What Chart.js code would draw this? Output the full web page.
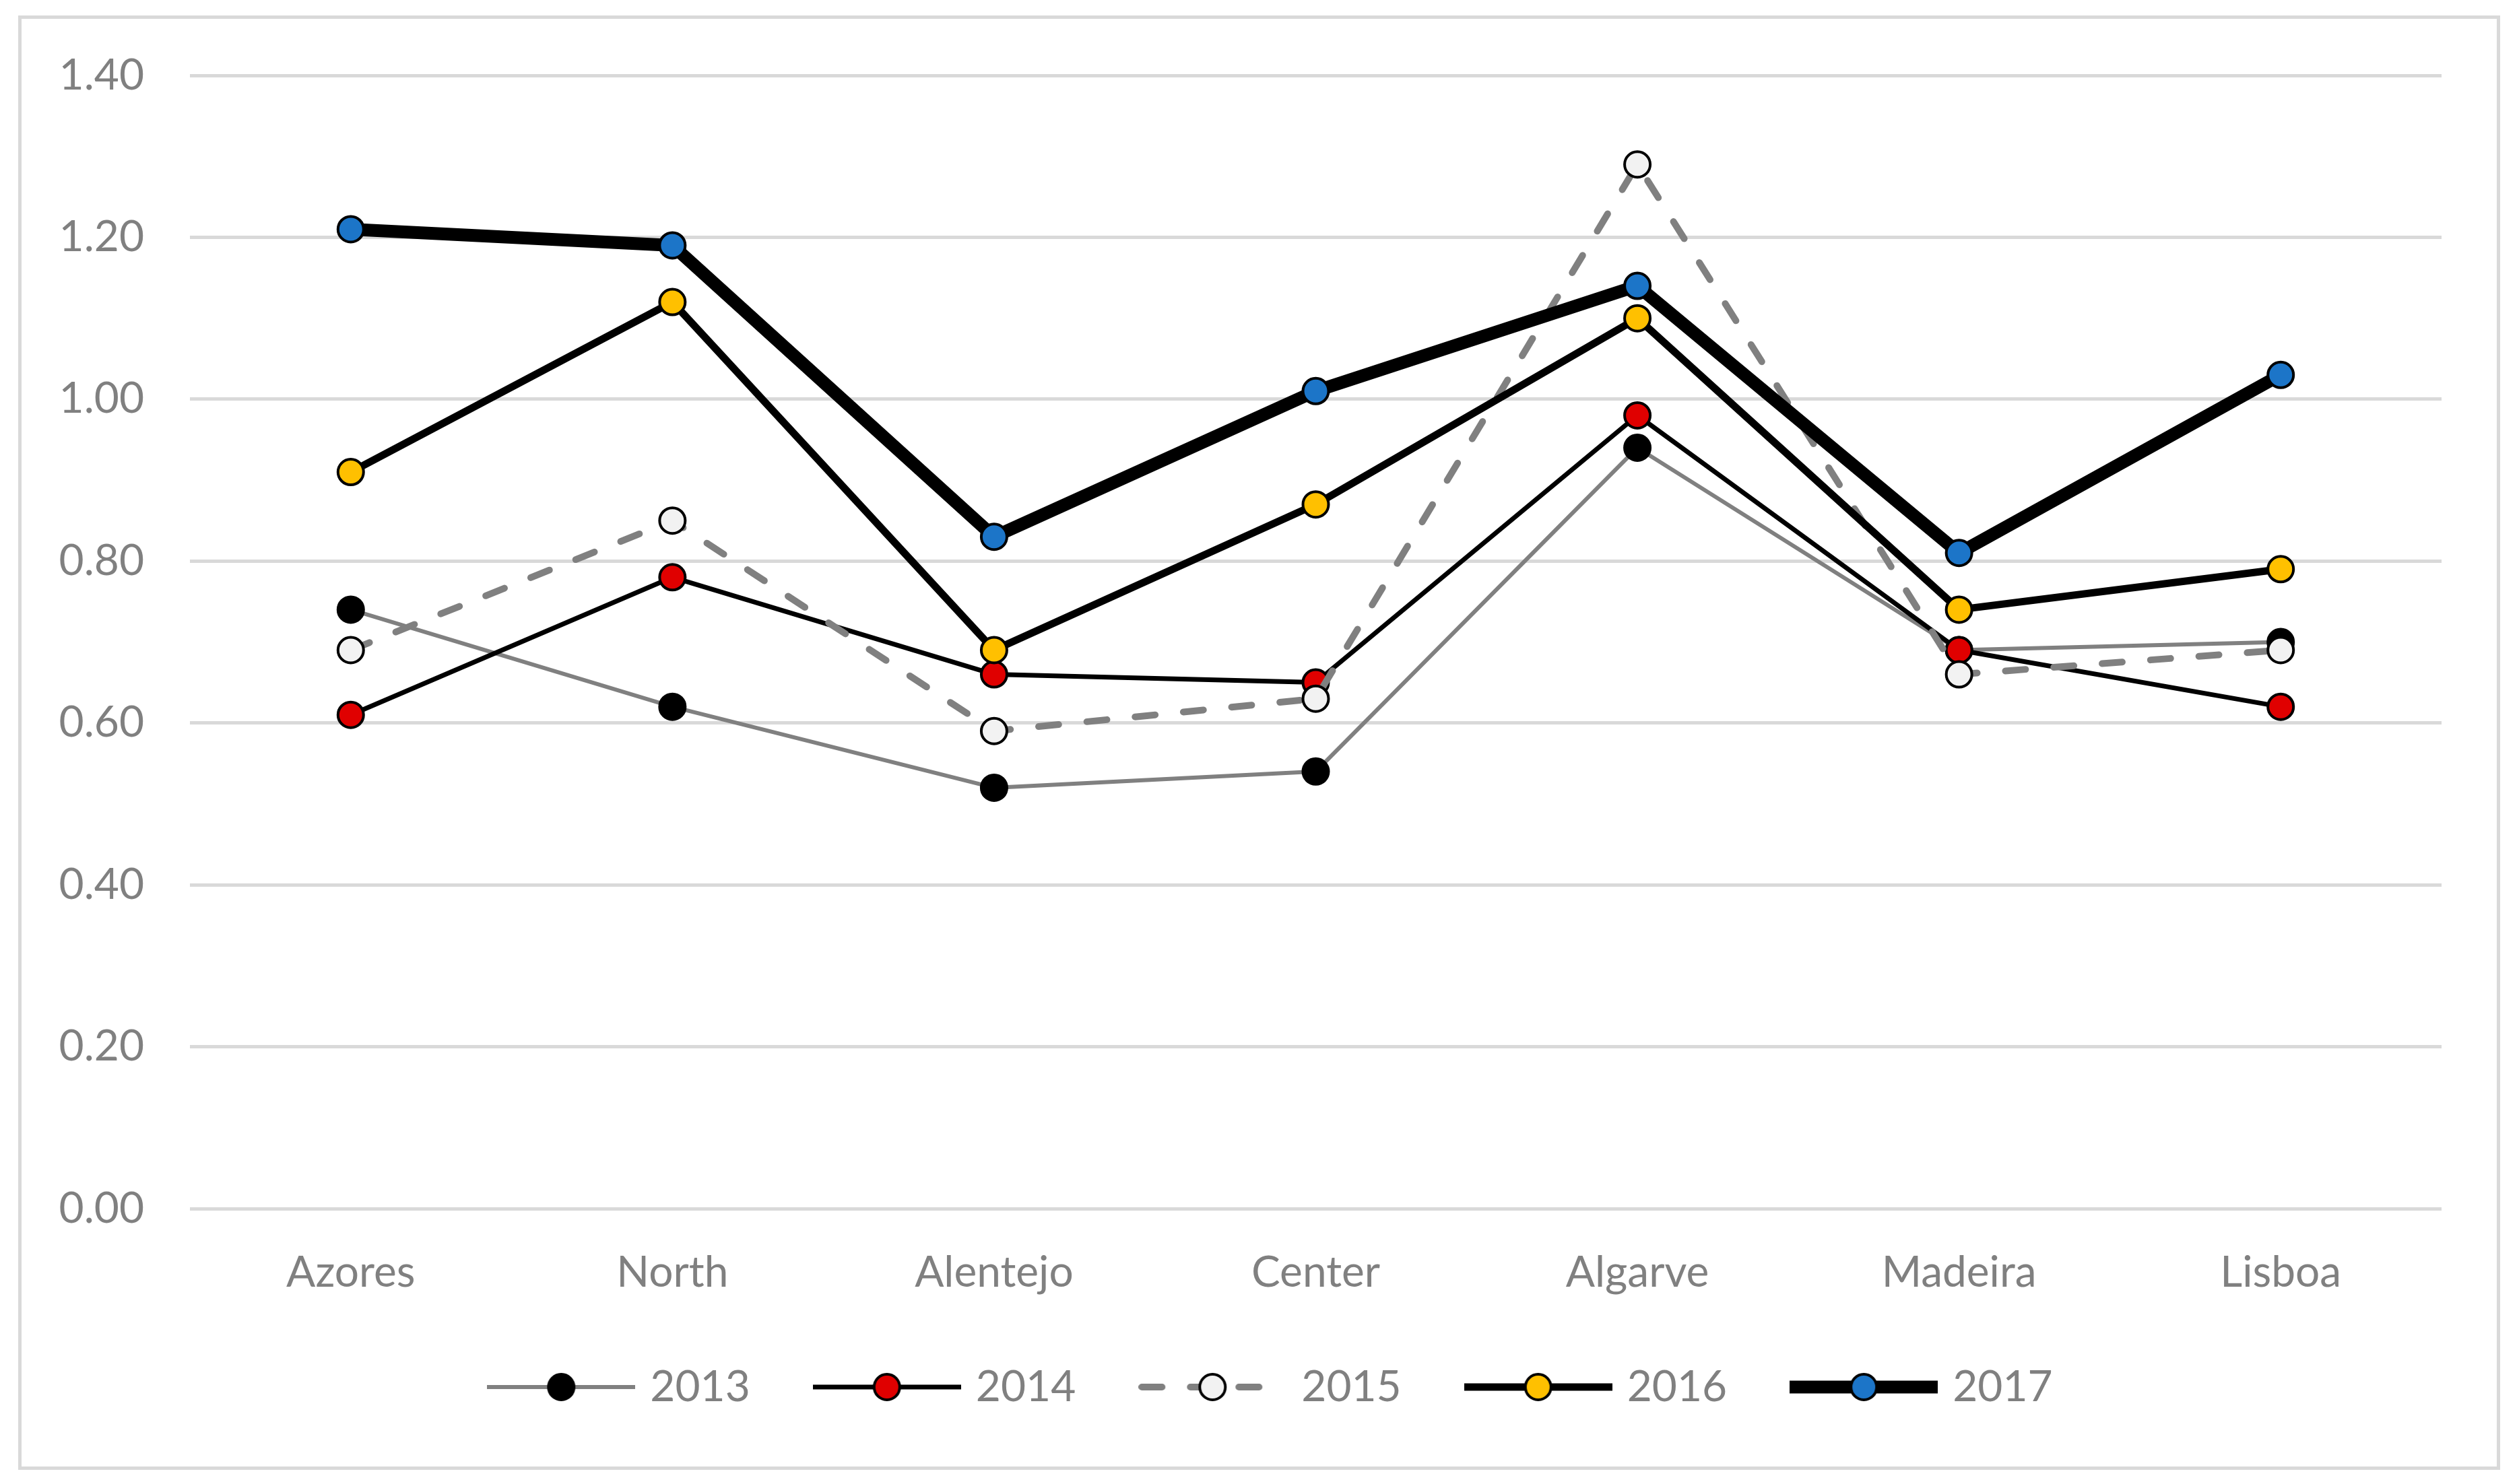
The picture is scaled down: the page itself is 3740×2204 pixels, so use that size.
<!DOCTYPE html>
<html>
<head>
<meta charset="utf-8">
<script src="https://cdn.jsdelivr.net/npm/chart.js@4/dist/chart.umd.min.js"></script>
<style>
html, body { margin: 0; padding: 0; background: #fff; }
#frame { position: absolute; left: 27px; top: 23px; width: 3675px; height: 2150px; border: 5px solid #d9d9d9; }
</style>
</head>
<body>
<div id="frame"><canvas id="chart"></canvas></div>
<script>
var regions = ["Azores", "North", "Alentejo", "Center", "Algarve", "Madeira", "Lisboa"];
var years = ["2013", "2014", "2015", "2016", "2017"];
var v2013 = [0.74, 0.62, 0.52, 0.54, 0.94, 0.69, 0.70];
var v2014 = [0.61, 0.78, 0.66, 0.65, 0.98, 0.69, 0.62];
var v2015 = [0.69, 0.85, 0.59, 0.63, 1.29, 0.66, 0.69];
var v2016 = [0.91, 1.12, 0.69, 0.87, 1.10, 0.74, 0.79];
var v2017 = [1.21, 1.19, 0.83, 1.01, 1.14, 0.81, 1.03];

var GRAY = "#808080";
var FONT = "Lato, 'Open Sans', sans-serif";

// one style per year: line colour, width, dash, marker fill
var styles = [
    { line: GRAY, width: 6, dash: [], fill: "#000000" },
    { line: "#000000", width: 7, dash: [], fill: "#e00000" },
    { line: GRAY, width: 10, dash: [30, 42], fill: "#f2f2f2" },
    { line: "#000000", width: 11, dash: [], fill: "#ffc000" },
    { line: "#000000", width: 19, dash: [], fill: "#1c75c8" }
];
var values = [v2013, v2014, v2015, v2016, v2017];

// small picture for the legend: line with the marker in the middle
function legendSymbol(st) {
    var c = document.createElement("canvas");
    c.width = 220;
    c.height = 52;
    var ctx = c.getContext("2d");
    ctx.strokeStyle = st.line;
    ctx.lineWidth = st.width;
    ctx.lineCap = st.dash.length ? "round" : "butt";
    ctx.setLineDash(st.dash);
    ctx.beginPath();
    ctx.moveTo(st.dash.length ? 5 : 0, 26);
    ctx.lineTo(st.dash.length ? 215 : 220, 26);
    ctx.stroke();
    ctx.setLineDash([]);
    ctx.beginPath();
    ctx.arc(110, 26, 19, 0, Math.PI * 2);
    ctx.fillStyle = st.fill;
    ctx.fill();
    ctx.lineWidth = 4;
    ctx.strokeStyle = "#000";
    ctx.stroke();
    return c;
}

var datasets = [];
for (var i = 0; i < years.length; i++) {
    var st = styles[i];
    datasets.push({
        label: years[i],
        data: values[i],
        order: years.length - i, // later years drawn on top
        borderColor: st.line,
        borderWidth: st.width,
        borderDash: st.dash,
        borderCapStyle: st.dash.length ? "round" : "butt",
        borderJoinStyle: "round",
        tension: 0,
        fill: false,
        pointRadius: 19,
        pointHoverRadius: 19,
        pointBorderWidth: 4,
        pointBorderColor: "#000",
        pointBackgroundColor: st.fill,
        legendImage: legendSymbol(st)
    });
}

// nudge the legend a bit, like the original layout
var legendNudge = {
    id: "legendNudge",
    afterLayout: function (chart) {
        var lg = chart.legend;
        lg.left += 62; lg.right += 62;
        lg.top -= 10; lg.bottom -= 10;
    }
};

new Chart(document.getElementById("chart"), {
    type: "line",
    data: { labels: regions, datasets: datasets },
    plugins: [legendNudge],
    options: {
        responsive: true,
        maintainAspectRatio: false,
        devicePixelRatio: 1,
        animation: false,
        layout: { padding: { left: 0, right: 82, top: 84, bottom: 66 } },
        plugins: {
            tooltip: { enabled: false },
            legend: {
                position: "bottom",
                labels: {
                    usePointStyle: true,
                    pointStyleWidth: 200,
                    padding: 103,
                    color: GRAY,
                    font: { family: FONT, size: 64 },
                    generateLabels: function (chart) {
                        return chart.data.datasets.map(function (ds, idx) {
                            return {
                                text: ds.label,
                                fontColor: GRAY,
                                pointStyle: ds.legendImage,
                                datasetIndex: idx,
                                hidden: false,
                                lineWidth: 0
                            };
                        });
                    }
                }
            }
        },
        scales: {
            x: {
                offset: true,
                grid: { display: false, drawTicks: false },
                border: { display: false },
                ticks: { color: GRAY, font: { family: FONT, size: 64 }, padding: 57, maxRotation: 0 },
                afterFit: function (scale) { scale.height = 140; }
            },
            y: {
                min: 0,
                max: 1.4,
                grid: { color: "#d9d9d9", lineWidth: 5, drawTicks: false },
                border: { display: false },
                ticks: {
                    stepSize: 0.2,
                    color: GRAY,
                    font: { family: FONT, size: 64 },
                    padding: 68,
                    callback: function (v) { return Number(v).toFixed(2); }
                },
                afterFit: function (scale) {
                    scale.width = 250;
                    scale.paddingTop = 0;
                    scale.paddingBottom = 0;
                }
            }
        }
    }
});
</script>
</body>
</html>
